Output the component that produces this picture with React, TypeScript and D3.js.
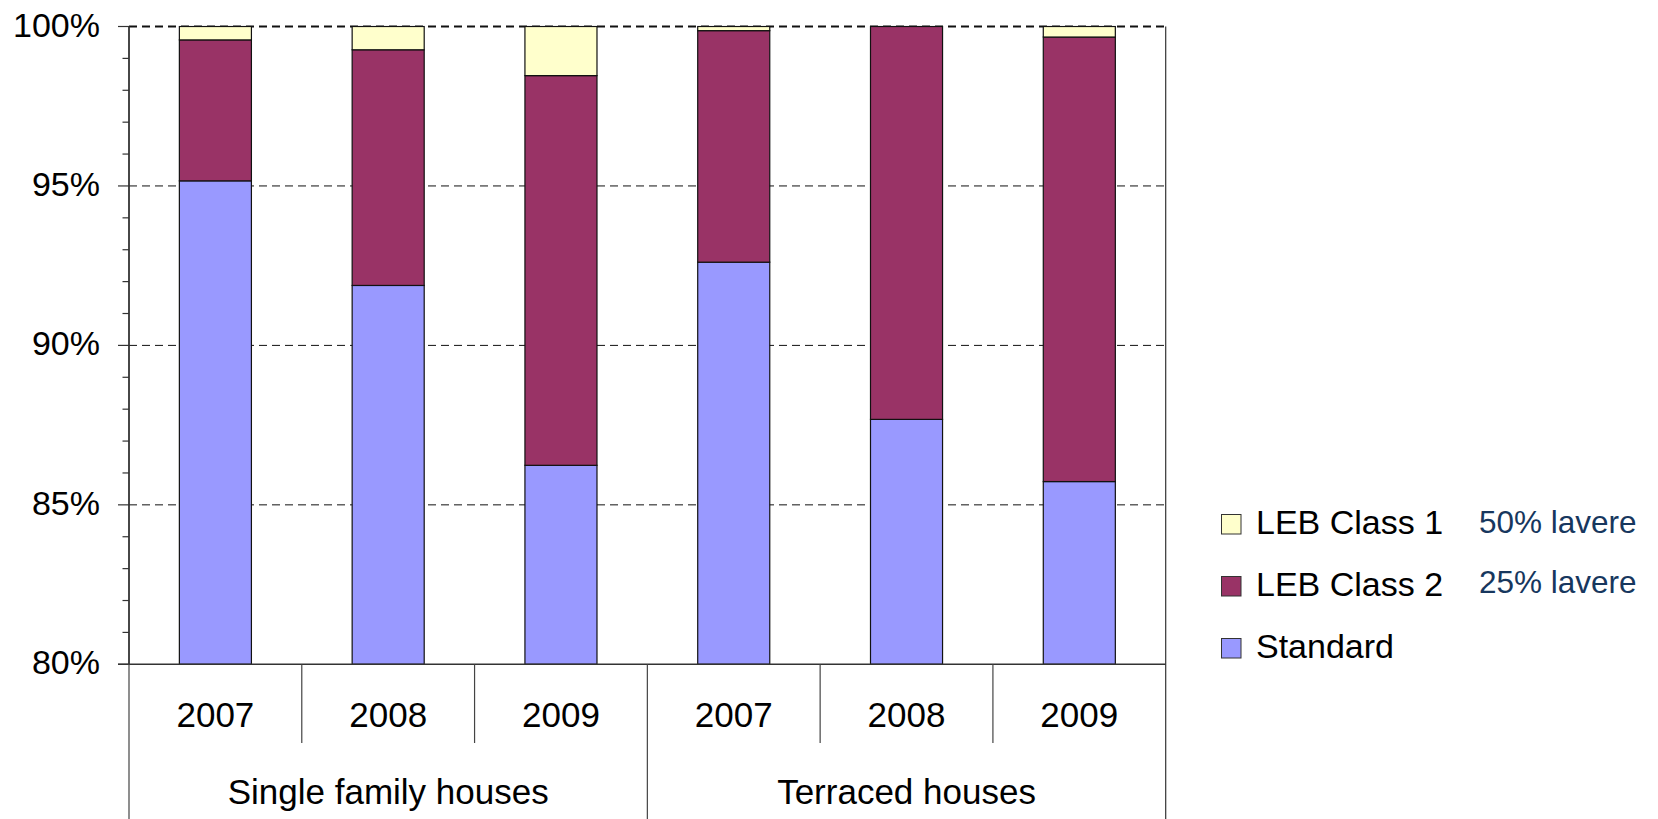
import React from "react";
import * as d3 from "d3";

const groups = ["Single family houses", "Terraced houses"];
const years = ["2007", "2008", "2009"];
const categories = ["S2007", "S2008", "S2009", "T2007", "T2008", "T2009"];
const standard = [95.16, 91.88, 86.24, 92.61, 87.68, 85.73];
const lebClass2 = [4.42, 7.39, 12.22, 7.26, 12.32, 13.94];
const lebClass1 = [0.42, 0.73, 1.54, 0.13, 0.0, 0.33];
const seriesNames = ["Standard", "LEB Class 2", "LEB Class 1"];
const seriesColors = ["#9999FF", "#993366", "#FFFFCC"];
const majorTicks = [80, 85, 90, 95, 100];
const minorTicks = [81, 82, 83, 84, 86, 87, 88, 89, 91, 92, 93, 94, 96, 97, 98, 99];
const legendOrder = [2, 1, 0];
const legendNotes = ["50% lavere", "25% lavere", ""];

const W = 1658;
const H = 819;
const left = 129;
const right = 1165.7;
const top = 26.5;
const bottom = 664.3;
const FONT = "'Liberation Sans', Arial, sans-serif";

export default function App() {
  const x = d3.scaleBand<string>().domain(categories).range([left, right]).padding(0);
  const y = d3.scaleLinear().domain([80, 100]).range([bottom, top]);
  const bw = x.bandwidth() * 0.417;

  const rows = categories.map((c, i) => ({
    cat: c,
    Standard: standard[i],
    "LEB Class 2": lebClass2[i],
    "LEB Class 1": lebClass1[i],
  }));
  const stack = d3.stack<any>().keys(seriesNames)(rows);

  const groupScale = d3.scaleBand<string>().domain(groups).range([left, right]);

  return (
    <svg
      width={W}
      height={H}
      style={{ position: "absolute", left: 0, top: 0, background: "#fff" }}
      fontFamily={FONT}
    >
      <defs>
        <clipPath id="plot">
          <rect x={left} y={top - 1} width={right - left} height={bottom - top + 1} />
        </clipPath>
      </defs>
      {/* gridlines */}
      {majorTicks.filter((t) => t > 80).map((t) => (
        <line
          key={"g" + t}
          x1={left}
          x2={right}
          y1={y(t)}
          y2={y(t)}
          stroke="#111"
          strokeWidth={t === 100 ? 1.8 : 1}
          strokeDasharray="8,5"
        />
      ))}
      {/* bars */}
      <g clipPath="url(#plot)">
        {stack.map((layer, si) =>
          layer.map((d, i) => {
            const y0 = Math.max(d[0], 80);
            const y1 = d[1];
            if (y1 - d[0] <= 0) return null;
            return (
              <rect
                key={si + "-" + i}
                x={(x(categories[i]) as number) + (x.bandwidth() - bw) / 2}
                y={y(y1)}
                width={bw}
                height={y(y0) - y(y1)}
                fill={seriesColors[si]}
                stroke="#111"
                strokeWidth={1.2}
              />
            );
          })
        )}
      </g>
      {/* right border */}
      <line x1={right} x2={right} y1={top} y2={H} stroke="#333" strokeWidth={1.2} />
      {/* y axis */}
      <line x1={left} x2={left} y1={top} y2={bottom} stroke="#333" strokeWidth={1.8} />
      {majorTicks.map((t) => (
        <line key={"mt" + t} x1={118} x2={left} y1={y(t)} y2={y(t)} stroke="#333" strokeWidth={1.2} />
      ))}
      {minorTicks.map((t) => (
        <line key={"nt" + t} x1={122.5} x2={left} y1={y(t)} y2={y(t)} stroke="#333" strokeWidth={1.2} />
      ))}
      {majorTicks.map((t) => (
        <text key={"tl" + t} x={100} y={y(t) + 10} textAnchor="end" fontSize={34} fill="#000">
          {t + "%"}
        </text>
      ))}
      {/* x axis */}
      <line x1={118} x2={right} y1={bottom} y2={bottom} stroke="#333" strokeWidth={1.5} />
      {categories.map((c, i) => {
        const x0 = x(c) as number;
        const isGroupEdge = i % 3 === 0;
        return (
          <line
            key={"sep" + c}
            x1={x0}
            x2={x0}
            y1={bottom}
            y2={isGroupEdge ? H : 743}
            stroke="#444"
            strokeWidth={1.2}
          />
        );
      })}
      {categories.map((c, i) => (
        <text
          key={"yl" + c}
          x={(x(c) as number) + x.bandwidth() / 2}
          y={727}
          textAnchor="middle"
          fontSize={35}
          fill="#000"
        >
          {years[i % 3]}
        </text>
      ))}
      {groups.map((g) => (
        <text
          key={"gl" + g}
          x={(groupScale(g) as number) + groupScale.bandwidth() / 2}
          y={804}
          textAnchor="middle"
          fontSize={35}
          fill="#000"
        >
          {g}
        </text>
      ))}
      {/* legend */}
      {legendOrder.map((si, k) => {
        const base = 534 + k * 62;
        return (
          <g key={"lg" + si}>
            <rect x={1221.5} y={base - 19.5} width={19.5} height={19.5} fill={seriesColors[si]} stroke="#333" strokeWidth={1} />
            <text x={1256} y={base} fontSize={34} fill="#000">
              {seriesNames[si]}
            </text>
            {legendNotes[k] && (
              <text x={1479} y={base - 1.5 - k * 2} fontSize={31.5} fill="#17375E">
                {legendNotes[k]}
              </text>
            )}
          </g>
        );
      })}
    </svg>
  );
}
